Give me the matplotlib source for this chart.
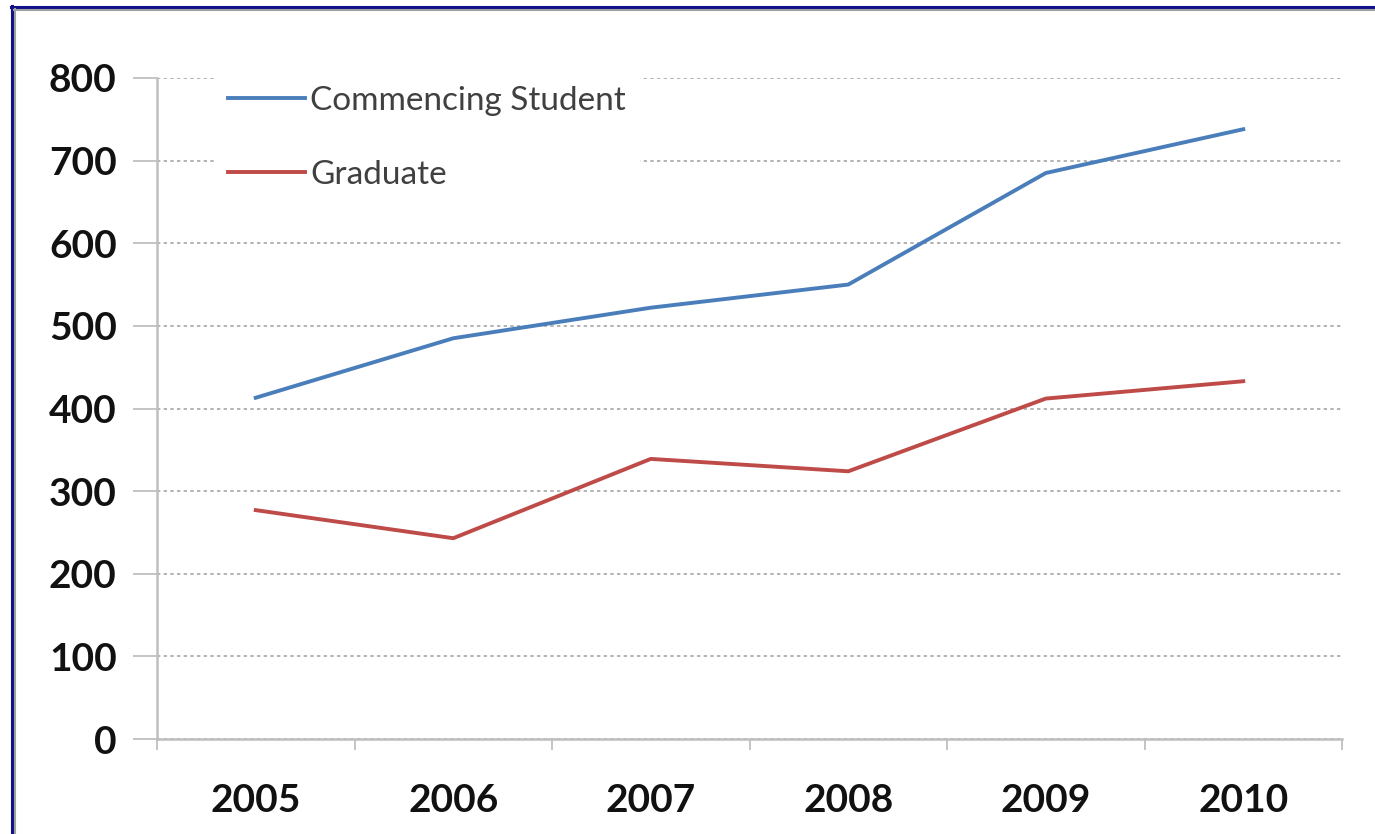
import numpy as np
import matplotlib.pyplot as plt
from matplotlib.lines import Line2D

# podatki
leta = ["2005", "2006", "2007", "2008", "2009", "2010"]
commencing = [413, 485, 522, 550, 685, 738]
graduate = [277, 243, 339, 324, 412, 433]
y_ticks = [0, 100, 200, 300, 400, 500, 600, 700, 800]

W, H = 1375, 834
fig = plt.figure(figsize=(W / 100, H / 100), dpi=100)
fig.patch.set_facecolor("white")

ax = fig.add_axes([157 / W, 1 - 739 / H, (1342 - 157) / W, (739 - 78) / H])

x = np.arange(len(leta)) + 0.5
ax.plot(x, commencing, color="#4a7ebb", lw=2.8, label="Commencing Student", zorder=3)
ax.plot(x, graduate, color="#be4b48", lw=2.8, label="Graduate", zorder=3)

ax.set_xlim(0, len(leta))
ax.set_ylim(0, 800)

# os y
ax.set_yticks(y_ticks)
ax.set_yticklabels([str(v) for v in y_ticks], fontfamily="Lato", fontweight="bold",
                   fontsize=28, color="#111111")
ax.yaxis.grid(True, color="#a6a6a6", linestyle=(0, (2, 2)), lw=1.2)
ax.set_axisbelow(True)

# os x - kljukice med kategorijami
ax.set_xticks(np.arange(len(leta) + 1))
ax.set_xticklabels([])
ax.set_xticks(x, minor=True)
ax.set_xticklabels(leta, minor=True, fontfamily="Lato", fontweight="bold", fontsize=28,
                   color="#111111")
ax.tick_params(axis="x", which="minor", length=0, pad=32)
ax.tick_params(axis="x", which="major", length=8, color="#bfbfbf", width=1.3)
ax.tick_params(axis="y", length=17, color="#bfbfbf", width=1.3, pad=12)

for s in ["top", "right"]:
    ax.spines[s].set_visible(False)
for s in ["left", "bottom"]:
    ax.spines[s].set_color("#bfbfbf")
    ax.spines[s].set_linewidth(1.8)

leg = ax.legend(loc="upper left", bbox_to_anchor=(0.035, 1.034), frameon=True,
                fancybox=False, edgecolor="white", framealpha=1.0,
                handlelength=2.3, handletextpad=0.15, labelspacing=1.32,
                prop={"family": "Lato", "size": 24}, borderpad=0.4)
for t in leg.get_texts():
    t.set_color("#404040")

# modri okvir slike
fig.add_artist(Line2D([11 / W, 1], [1 - 6.5 / H, 1 - 6.5 / H], color="#10108a", lw=2.2))
fig.add_artist(Line2D([11.5 / W, 11.5 / W], [0, 1 - 6 / H], color="#10108a", lw=2.2))
fig.add_artist(Line2D([14 / W, 1], [1 - 9.5 / H, 1 - 9.5 / H], color="#a0a0a0", lw=1.5))
fig.add_artist(Line2D([14.5 / W, 14.5 / W], [0, 1 - 9 / H], color="#a0a0a0", lw=1.5))

fig.savefig("out.png", dpi=100)
